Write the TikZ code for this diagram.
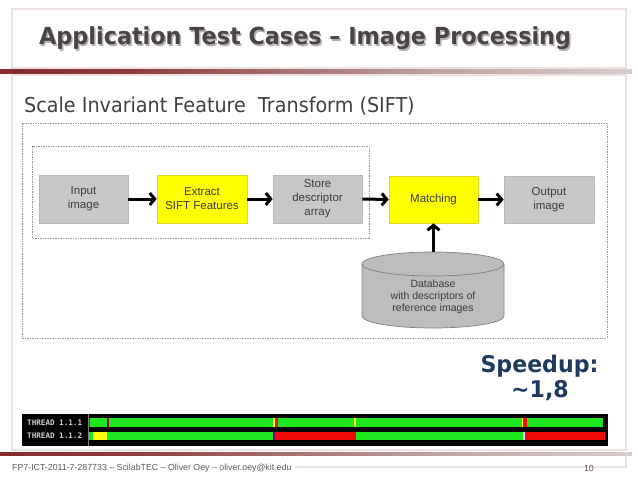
\documentclass[tikz,border=0pt]{standalone}
\usepackage{fontspec}
\setmainfont{Liberation Sans}
\newfontfamily\tahomaish{DejaVu Sans}
\newfontfamily\monof{DejaVu Sans Mono}
\usetikzlibrary{arrows.meta}
\definecolor{framec}{HTML}{EDE1E1}
\definecolor{titlec}{HTML}{4A4444}
\definecolor{shadowc}{HTML}{B5B0B0}
\definecolor{subc}{HTML}{404040}
\definecolor{boxgray}{HTML}{C8C8C8}
\definecolor{boxgrayb}{HTML}{B8B8B8}
\definecolor{boxyel}{HTML}{FFFF00}
\definecolor{boxyelb}{HTML}{DADA30}
\definecolor{boxtext}{HTML}{3C3C3C}
\definecolor{dashc}{HTML}{9A9A9A}
\definecolor{dbfill}{HTML}{BDBDBD}
\definecolor{dbline}{HTML}{808080}
\definecolor{navy}{HTML}{1F3A60}
\definecolor{thgreen}{HTML}{1EE61E}
\definecolor{thred}{HTML}{F00A0A}
\definecolor{thyel}{HTML}{FFFF10}
\definecolor{thlabel}{HTML}{D0D0D0}
\definecolor{footc}{HTML}{5A5A5A}
\definecolor{red1}{HTML}{7B1414}
\definecolor{red2}{HTML}{8E3A3A}
\definecolor{red3}{HTML}{BFA5A5}
\definecolor{red4}{HTML}{E6DEDE}
\pgfdeclarehorizontalshading{redfade}{100bp}{color(0bp)=(red1); color(8bp)=(red1); color(35bp)=(red2); color(60bp)=(red3); color(82bp)=(red4); color(100bp)=(white)}
\begin{document}
\begin{tikzpicture}[x=1pt,y=-1pt,
  frame/.style={draw=framec, line width=1.8pt},
  procbox/.style={draw=boxgrayb, fill=boxgray, line width=0.6pt, minimum width=89pt, minimum height=48pt, inner sep=0pt, align=center, text=boxtext, font=\fontsize{11.5}{14}\selectfont},
  yelbox/.style={procbox, draw=boxyelb, fill=boxyel},
  dashbox/.style={draw=dashc, line width=0.6pt, dash pattern=on 1.5pt off 1pt},
  arr/.style={line width=3pt, -{Straight Barb[length=5pt,width=12pt]}},
]
\useasboundingbox (0,0) rectangle (638,479);
\fill[white] (0,0) rectangle (638,479);
% frames
\draw[frame] (12,9) rectangle (626,68);
\draw[frame] (12,75) rectangle (626,450);
\draw[framec, line width=1.2pt] (295,467) -- (626,467) -- (626,455);
\shade[shading=redfade] (0,69) rectangle (632,73);
\shade[shading=redfade] (0,452) rectangle (632,455);
% title
\node[anchor=base west, inner sep=0pt, text=shadowc, font=\tahomaish\bfseries\fontsize{23.5}{28}\selectfont] (titleshadow) at (40.5,46.5) {\scalebox{0.95}[1]{Application Test Cases – Image Processing}};
\node[anchor=base west, inner sep=0pt, text=titlec, font=\tahomaish\bfseries\fontsize{23.5}{28}\selectfont] (title) at (39,45) {\scalebox{0.95}[1]{Application Test Cases – Image Processing}};
% subtitle
\node[anchor=base west, inner sep=0pt, text=subc, font=\tahomaish\fontsize{20.5}{24}\selectfont] (sub) at (24,112) {\scalebox{0.935}[1]{Scale Invariant Feature\ \ Transform (SIFT)}};
% dashed frames
\draw[dashbox] (22,123) rectangle (607,338);
\draw[dashbox] (32,146) rectangle (369,238);
% process boxes
\node[procbox] (in) at (83.5,199) {Input\\image};
\node[yelbox, minimum width=90pt] (ex) at (202,199) {Extract\\SIFT Features};
\node[procbox] (st) at (317.5,199) {Store\\descriptor\\array};
\node[yelbox, minimum height=47pt] (ma) at (433.5,199.5) {Matching};
\node[procbox, minimum width=90pt, minimum height=47pt] (out) at (549,199.5) {Output\\image};
% database cylinder
\filldraw[fill=dbfill, draw=dbline, line width=0.7pt] (362,264) -- (362,316) arc[start angle=180, end angle=0, x radius=71, y radius=12] -- (504,264) arc[start angle=0, end angle=-180, x radius=71, y radius=12] -- cycle;
\draw[draw=dbline, line width=0.7pt] (362,264) arc[start angle=180, end angle=0, x radius=71, y radius=12];
\coordinate (dbtop) at (433.5,252);
\node[inner sep=0pt, align=center, text=boxtext, font=\fontsize{10.5}{12}\selectfont] (db) at (433,297) {Database\\with descriptors of\\reference images};
% arrows
\draw[arr] (in.east) -- (ex.west);
\draw[arr] (ex.east) -- (st.west);
\draw[arr] (st.east) -- (ma.west);
\draw[arr] (ma.east) -- (out.west);
\draw[arr] (dbtop) -- (ma.south);
% speedup
\node[anchor=base, inner sep=0pt, text=navy, font=\tahomaish\bfseries\fontsize{23}{27}\selectfont] (sp1) at (539.5,372) {\scalebox{0.96}[1]{Speedup:}};
\node[anchor=base, inner sep=0pt, text=navy, font=\tahomaish\bfseries\fontsize{23}{27}\selectfont] (sp2) at (540,397) {\scalebox{0.96}[1]{\textasciitilde 1,8}};
% thread bar
\fill[black] (22,414) rectangle (608,446);
\draw[gray, line width=0.7pt] (88,414) -- (88,446);
\node[anchor=west, inner sep=0pt, text=thlabel, font=\monof\bfseries\fontsize{7.6}{9}\selectfont] (t1) at (27,423) {THREAD 1.1.1};
\node[anchor=west, inner sep=0pt, text=thlabel, font=\monof\bfseries\fontsize{7.6}{9}\selectfont] (t2) at (27,436) {THREAD 1.1.2};
% row 1
\fill[thgreen] (89,418) rectangle (107,427);
\fill[red!60!black] (107,418) rectangle (108.5,427);
\fill[thgreen] (108.5,418) rectangle (273,427);
\fill[thyel] (273,418) rectangle (274.5,427);
\fill[thred] (274.5,418) rectangle (278,427);
\fill[thgreen] (278,418) rectangle (354,427);
\fill[thyel] (354,418) rectangle (355.5,427);
\fill[thgreen] (355.5,418) rectangle (522,427);
\fill[thyel] (522,418) rectangle (523,427);
\fill[thred] (523,418) rectangle (527,427);
\fill[thgreen] (527,418) rectangle (603,427);
\fill[blue!50!gray] (88.5,418) rectangle (89.3,427);
% row 2
\fill[thgreen] (89,432) rectangle (93,440);
\fill[thyel] (93,432) rectangle (107,440);
\fill[thgreen] (107,432) rectangle (273,440);
\fill[violet] (273,432) rectangle (275,440);
\fill[thred] (275,432) rectangle (356,440);
\fill[thgreen] (356,432) rectangle (523,440);
\fill[blue!15] (523,432) rectangle (525,440);
\fill[thred] (525,432) rectangle (605,440);
% footer
\node[anchor=west, inner sep=0pt, text=footc, font=\fontsize{8.8}{10}\selectfont] (foot) at (12,468) {FP7-ICT-2011-7-287733 – ScilabTEC – Oliver Oey – oliver.oey@kit.edu};
\node[anchor=east, inner sep=0pt, text=footc, font=\fontsize{8.8}{10}\selectfont] (page) at (594,468) {10};
\end{tikzpicture}
\end{document}
